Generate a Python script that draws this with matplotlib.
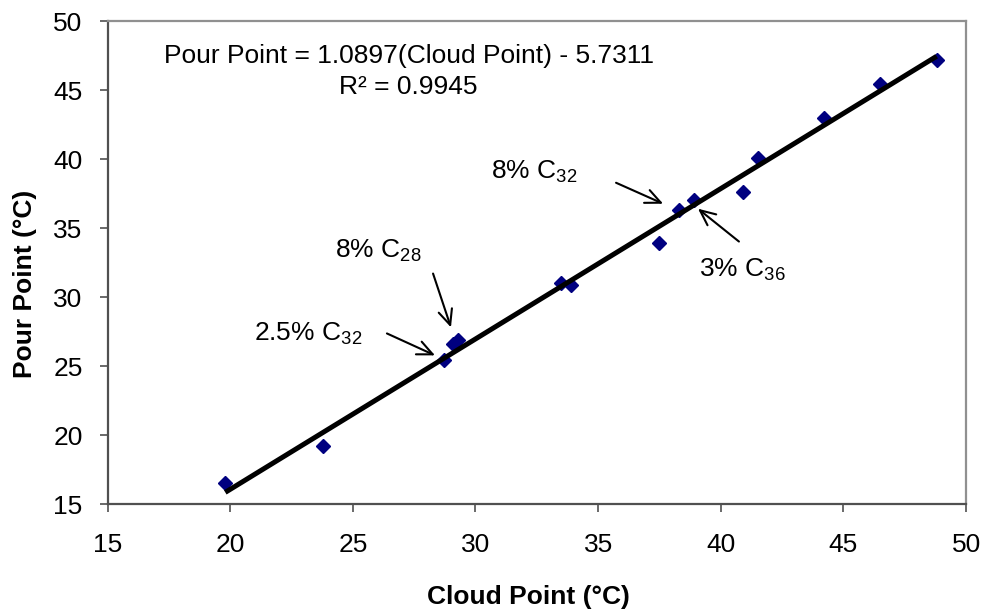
import numpy as np
import matplotlib.pyplot as plt

plt.rcParams['font.family'] = ['Liberation Sans', 'DejaVu Sans']
plt.rcParams['mathtext.fontset'] = 'custom'
plt.rcParams['mathtext.rm'] = 'Liberation Sans'
plt.rcParams['mathtext.it'] = 'Liberation Sans:italic'
plt.rcParams['mathtext.bf'] = 'Liberation Sans:bold'

# measured cloud / pour points (deg C)
cloud_pt = [19.8, 23.8, 28.7, 29.1, 29.3, 33.5, 33.9, 37.5, 38.3, 38.9, 40.9, 41.5, 44.2, 46.5, 48.8]
pour_pt = [16.5, 19.2, 25.4, 26.6, 26.9, 31.0, 30.9, 33.9, 36.3, 37.0, 37.6, 40.1, 43.0, 45.4, 47.2]

# linear fit
slope = 1.0897
intercept = -5.7311
r_sq = 0.9945

blend_labels = ['8% C$_{28}$', '2.5% C$_{32}$', '8% C$_{32}$', '3% C$_{36}$']

FS = 19

fig = plt.figure(figsize=(9.82, 6.11), dpi=100)
ax = fig.add_axes([0.1095, 0.1751, 0.8743, 0.7905])

ax.plot(cloud_pt, pour_pt, linestyle='none', marker='D', markersize=7.5,
        color='#000080', zorder=2)

xf = np.array([min(cloud_pt), max(cloud_pt)])
ax.plot(xf, slope * xf + intercept, color='black', lw=3.6,
        solid_capstyle='butt', zorder=3)

ax.text(27.27, 46.96, 'Pour Point = %.4f(Cloud Point) - %.4f' % (slope, -intercept),
        ha='center', va='baseline', fontsize=FS)
ax.text(27.27, 44.72, 'R\u00b2 = %.4f' % r_sq, ha='center', va='baseline', fontsize=FS)

# text position, arrow tail, arrow head for each labelled blend
text_pos = [(24.27, 32.81), (20.97, 26.86), (30.62, 38.57), (39.11, 31.44)]
tails = [(28.27, 31.70), (26.39, 27.36), (35.73, 38.28), (40.74, 34.02)]
heads = [(29.0, 27.8), (28.35, 25.77), (37.65, 36.76), (39.07, 36.4)]
for lab, tp, t, h in zip(blend_labels, text_pos, tails, heads):
    ax.text(tp[0], tp[1], lab, ha='left', va='baseline', fontsize=FS)
    ax.annotate('', xy=h, xytext=t,
                arrowprops=dict(arrowstyle='->,head_length=1.1,head_width=0.5',
                                color='black', lw=1.5, shrinkA=0, shrinkB=0,
                                mutation_scale=10))

ax.set_xlim(15, 50)
ax.set_ylim(15, 50)
ax.set_xticks(np.arange(15, 51, 5))
ax.set_yticks(np.arange(15, 51, 5))
ax.tick_params(axis='both', direction='out', length=6, width=1.2,
               color='#505050', labelsize=FS)
ax.tick_params(axis='x', pad=15)
ax.tick_params(axis='y', pad=12)

for side in ['left', 'bottom']:
    ax.spines[side].set_color('#505050')
    ax.spines[side].set_linewidth(1.6)
for side in ['top', 'right']:
    ax.spines[side].set_color('#909090')
    ax.spines[side].set_linewidth(1.6)

ax.set_xlabel('Cloud Point (\u00b0C)', fontsize=FS, fontweight='bold')
ax.set_ylabel('Pour Point (\u00b0C)', fontsize=FS, fontweight='bold')
ax.xaxis.set_label_coords(0.49, -0.168)
ax.yaxis.set_label_coords(-0.082, 0.455)

fig.savefig('out.png', dpi=100)
